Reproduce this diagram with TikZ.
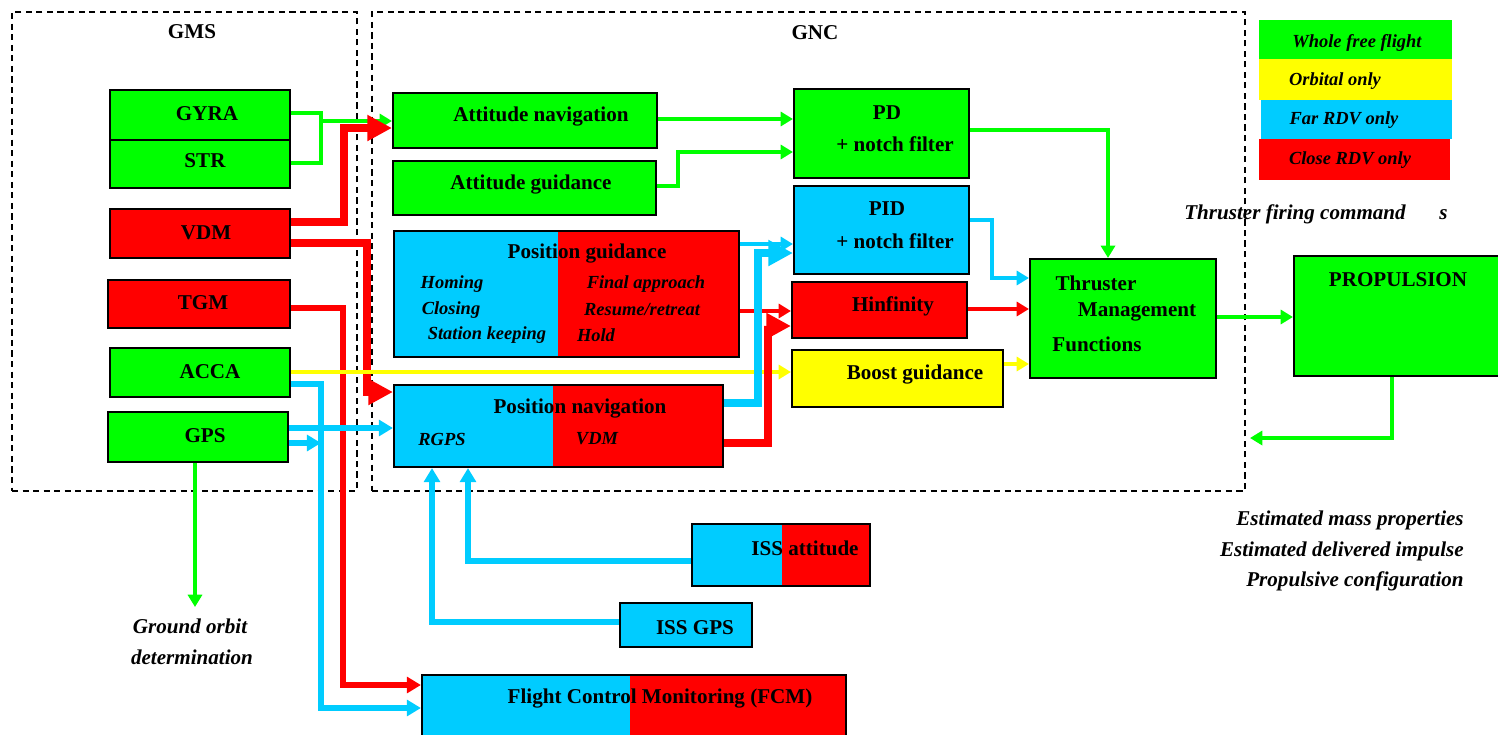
\documentclass[tikz,border=0pt]{standalone}
\usepackage{fontspec}
\setmainfont{Liberation Serif}
\usetikzlibrary{arrows.meta,fit}
\definecolor{cg}{HTML}{00FF00}
\definecolor{cy}{HTML}{FFFF00}
\definecolor{cb}{HTML}{00CCFF}
\definecolor{cr}{HTML}{FF0000}
\begin{document}
\begin{tikzpicture}[x=0.02cm,y=-0.02cm,
 box/.style={draw=black, line width=1.2pt, inner sep=0pt},
 band/.style={inner sep=0pt, draw=none},
 lbl/.style={font=\fontsize{12}{14}\selectfont\bfseries, inner sep=0pt},
 ilbl/.style={font=\fontsize{10.5}{12}\selectfont\bfseries\itshape, inner sep=0pt},
 ilblb/.style={font=\fontsize{12}{14}\selectfont\bfseries\itshape, inner sep=0pt},
 thinarr/.style={line width=2.3pt, -{Triangle[length=7pt,width=8pt]}},
 thinline/.style={line width=2.3pt},
 bigarr/.style={line width=4pt, -{Triangle[length=14pt,width=14pt]}},
 medarr/.style={line width=3.2pt, -{Triangle[length=8pt,width=9pt]}},
 grp/.style={draw=black, line width=1.1pt, dash pattern=on 3.5pt off 2.5pt, inner sep=0pt}
]
\clip (0,0) rectangle (1498,734);
\fill[white] (0,0) rectangle (1498,734);

% group frames
\node[grp, fit={(12,12)(357,491)}] (gms) {};
\node[grp, fit={(372,12)(1245,491)}] (gnc) {};
\node[lbl] (tgms) at (192,32) {GMS};
\node[lbl] (tgnc) at (815,33) {GNC};

% GMS boxes
\node[box, fill=cg, fit={(110,90)(290,140)}] (gyra) {};
\node[box, fill=cg, fit={(110,140)(290,188)}] (str) {};
\node[box, fill=cr, fit={(110,209)(290,258)}] (vdm) {};
\node[box, fill=cr, fit={(108,280)(290,328)}] (tgm) {};
\node[box, fill=cg, fit={(110,348)(290,397)}] (acca) {};
\node[box, fill=cg, fit={(108,412)(288,462)}] (gps) {};
\node[lbl] (tgyra) at (207,114) {GYRA};
\node[lbl] (tstr) at (205,161) {STR};
\node[lbl] (tvdm) at (206,233) {VDM};
\node[lbl] (ttgm) at (203,303) {TGM};
\node[lbl] (tacca) at (210,372) {ACCA};
\node[lbl] (tgps) at (205,436) {GPS};

% GNC boxes
\node[box, fill=cg, fit={(393,93)(657,148)}] (attnav) {};
\node[box, fill=cg, fit={(393,161)(656,215)}] (attgd) {};
\fill[cb] (394,231) rectangle (558,357);
\fill[cr] (558,231) rectangle (739,357);
\node[box, fit={(394,231)(739,357)}] (pg) {};
\fill[cb] (394,385) rectangle (553,467);
\fill[cr] (553,385) rectangle (723,467);
\node[box, fit={(394,385)(723,467)}] (pn) {};
\node[box, fill=cg, fit={(794,89)(969,178)}] (pd) {};
\node[box, fill=cb, fit={(794,186)(969,274)}] (pid) {};
\node[box, fill=cr, fit={(792,282)(967,338)}] (hinf) {};
\node[box, fill=cy, fit={(792,350)(1003,407)}] (boost) {};
\node[box, fill=cg, fit={(1030,259)(1216,378)}] (tmf) {};
\node[box, fill=cg, fit={(1294,256)(1510,376)}] (prop) {};

\node[lbl] (tattnav) at (541,117) {Attitude navigation};
\node[lbl] (tattgd) at (531,185) {Attitude guidance};
\node[lbl] (tpg) at (587,254) {Position guidance};
\node[ilbl] (tpg1) at (452,284) {Homing};
\node[ilbl] (tpg2) at (451,310) {Closing};
\node[ilbl] (tpg3) at (487,335) {Station keeping};
\node[ilbl] (tpg4) at (646,284) {Final approach};
\node[ilbl] (tpg5) at (642,310) {Resume/retreat};
\node[ilbl] (tpg6) at (596,335) {Hold};
\node[lbl] (tpn) at (580,409) {Position navigation};
\node[ilbl] (tpn1) at (442,439) {RGPS};
\node[ilbl] (tpn2) at (597,439) {VDM};
\node[lbl] (tpd1) at (887,113) {PD};
\node[lbl] (tpd2) at (895,144) {+ notch filter};
\node[lbl] (tpid1) at (887,209) {PID};
\node[lbl] (tpid2) at (895,241) {+ notch filter};
\node[lbl] (thinf) at (893,306) {Hinfinity};
\node[lbl] (tboost) at (915,375) {Boost guidance};
\node[lbl] (ttmf1) at (1096,283) {Thruster};
\node[lbl] (ttmf2) at (1137,312) {Management};
\node[lbl] (ttmf3) at (1097,344) {Functions};
\node[lbl] (tprop) at (1398,280) {PROPULSION};

% outside boxes
\fill[cb] (692,524) rectangle (782,586);
\fill[cr] (782,524) rectangle (870,586);
\node[box, fit={(692,524)(870,586)}] (issatt) {};
\node[box, fill=cb, fit={(620,603)(752,647)}] (issgps) {};
\fill[cb] (422,675) rectangle (630,745);
\fill[cr] (630,675) rectangle (846,745);
\node[box, fit={(422,675)(846,745)}] (fcm) {};
\node[lbl] (tissatt) at (805,548) {ISS attitude};
\node[lbl] (tissgps) at (695,628) {ISS GPS};
\node[lbl] (tfcm) at (660,699) {Flight Control Monitoring (FCM)};

% legend
\node[band, fill=cg, fit={(1259,20)(1452,59)}] (lg1) {};
\node[band, fill=cy, fit={(1259,59)(1452,100)}] (lg2) {};
\node[band, fill=cb, fit={(1261,100)(1452,139)}] (lg3) {};
\node[band, fill=cr, fit={(1259,139)(1450,180)}] (lg4) {};
\node[ilbl] (tlg1) at (1357,43) {Whole free flight};
\node[ilbl] (tlg2) at (1335,81) {Orbital only};
\node[ilbl] (tlg3) at (1344,120) {Far RDV only};
\node[ilbl] (tlg4) at (1350,160) {Close RDV only};

% free texts
\node[ilblb] (tfire) at (1316,214) {Thruster firing command\hspace{1.6em}s};
\node[ilblb, anchor=east] (tout1) at (1464,520) {Estimated mass properties};
\node[ilblb, anchor=east] (tout2) at (1464,551) {Estimated delivered impulse};
\node[ilblb, anchor=east] (tout3) at (1464,581) {Propulsive configuration};
\node[ilblb] (tgod1) at (190,626) {Ground orbit};
\node[ilblb] (tgod2) at (192,657) {determination};

% connectors
\coordinate (gsj) at (321,121);
\coordinate (fb) at (1250,438);
\coordinate (god) at (195,607);

\draw[thinline, cg] (gyra.east |- 0,113) -- (321,113) -- (321,163) -- (str.east |- 0,163);
\draw[thinarr, cg] (gsj) -- (attnav.west |- 0,121);
\draw[bigarr, cr] (vdm.east |- 0,222) -- (344,222) -- (344,128) -- (attnav.west |- 0,128);
\draw[bigarr, cr] (vdm.east |- 0,243) -- (367,243) -- (367,392) -- (pn.west |- 0,392);
\draw[medarr, cr] (tgm.east |- 0,308) -- (343,308) -- (343,685) -- (fcm.west |- 0,685);
\draw[thinarr, cy] (acca.east |- 0,372) -- (boost.west |- 0,372);
\draw[medarr, cb] (acca.east |- 0,384) -- (321,384) -- (321,708) -- (fcm.west |- 0,708);
\draw[medarr, cb] (gps.east |- 0,428) -- (pn.west |- 0,428);
\draw[medarr, cb] (gps.east |- 0,443) -- (321,443);
\draw[thinarr, cg] (gps.south -| god) -- (god);

\draw[thinarr, cg] (attnav.east |- 0,119) -- (pd.west |- 0,119);
\draw[thinarr, cg] (attgd.east |- 0,186) -- (678,186) -- (678,152) -- (pd.west |- 0,152);
\draw[thinarr, cg] (pd.east |- 0,130) -- (1108,130) -- (tmf.north -| 1108,0);
\draw[thinarr, cb] (pg.east |- 0,244) -- (pid.west |- 0,244);
\draw[thinarr, cr] (pg.east |- 0,311) -- (hinf.west |- 0,311);
\draw[bigarr, cb] (pn.east |- 0,403) -- (758,403) -- (758,253) -- (pid.west |- 0,253);
\draw[bigarr, cr] (pn.east |- 0,443) -- (768,443) -- (768,326) -- (hinf.west |- 0,326);
\draw[thinarr, cb] (pid.east |- 0,220) -- (992,220) -- (992,278) -- (tmf.west |- 0,278);
\draw[thinarr, cr] (hinf.east |- 0,309) -- (tmf.west |- 0,309);
\draw[thinarr, cy] (boost.east |- 0,364) -- (tmf.west |- 0,364);
\draw[thinarr, cg] (tmf.east |- 0,317) -- (prop.west |- 0,317);
\draw[thinarr, cg] (prop.south -| 1392,0) -- (1392,438) -- (fb);
\draw[medarr, cb] (issatt.west |- 0,561) -- (468,561) -- (pn.south -| 468,0);
\draw[medarr, cb] (issgps.west |- 0,622) -- (432,622) -- (pn.south -| 432,0);
\end{tikzpicture}
\end{document}
